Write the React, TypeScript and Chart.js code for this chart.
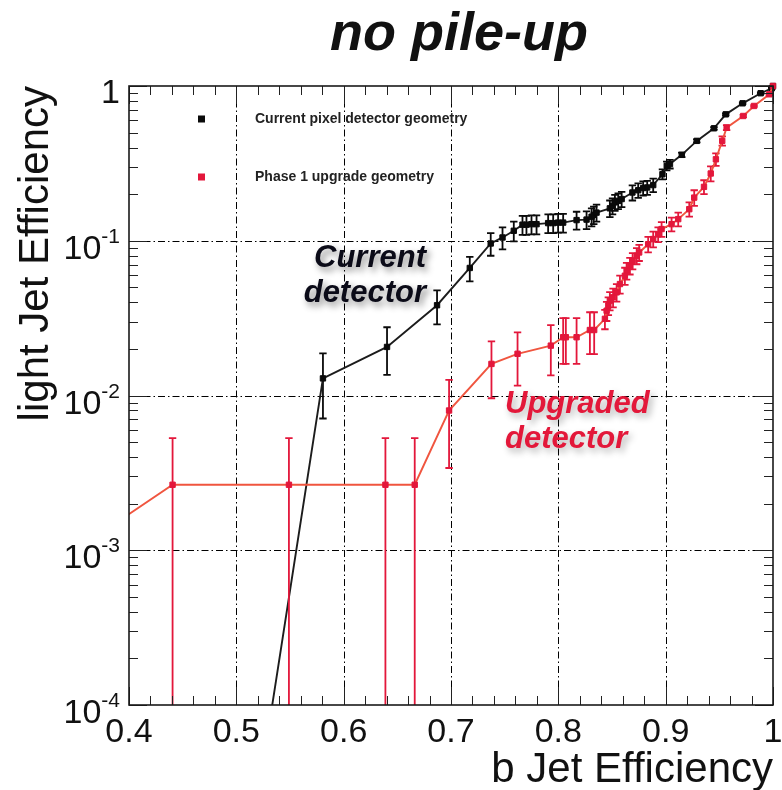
import React, { useEffect, useRef } from "react";
import { Chart, registerables } from "chart.js";

Chart.register(...registerables);

// ---- data ----
const currentX = [0.5, 0.5807, 0.6404, 0.687, 0.7175, 0.737, 0.748, 0.7585, 0.7666, 0.7703, 0.775, 0.7797, 0.7905, 0.7952, 0.7998, 0.8045, 0.817, 0.8263, 0.831, 0.833, 0.8356, 0.848, 0.8505, 0.8527, 0.8558, 0.859, 0.869, 0.8744, 0.879, 0.8828, 0.8884, 0.897, 0.901, 0.904, 0.915, 0.929, 0.945, 0.956, 0.9717, 0.9885, 0.9988, 1.0];
const currentY = [3.2e-6, 0.0129, 0.0206, 0.0383, 0.0667, 0.096, 0.105, 0.116, 0.127, 0.127, 0.128, 0.128, 0.13, 0.13, 0.131, 0.131, 0.136, 0.137, 0.143, 0.147, 0.152, 0.162, 0.168, 0.177, 0.181, 0.186, 0.205, 0.212, 0.219, 0.221, 0.229, 0.269, 0.305, 0.313, 0.359, 0.442, 0.533, 0.656, 0.773, 0.898, 0.966, 1.0];
const currentErr = [0, 0.0058, 0.007, 0.0095, 0.012, 0.016, 0.017, 0.017, 0.018, 0.018, 0.018, 0.018, 0.018, 0.018, 0.018, 0.018, 0.018, 0.018, 0.019, 0.019, 0.019, 0.02, 0.02, 0.021, 0.021, 0.021, 0.023, 0.023, 0.023, 0.023, 0.023, 0.02, 0.02, 0.02, 0.012, 0.01, 0.01, 0.01, 0.01, 0.01, 0.01, 0];

const upgradeX = [0.38, 0.4406, 0.549, 0.6389, 0.6662, 0.6982, 0.7377, 0.762, 0.793, 0.8045, 0.807, 0.817, 0.8294, 0.8334, 0.8434, 0.845, 0.8466, 0.848, 0.851, 0.8543, 0.8574, 0.862, 0.8636, 0.8667, 0.8692, 0.873, 0.8753, 0.8837, 0.8884, 0.893, 0.8962, 0.9055, 0.9117, 0.922, 0.9266, 0.9357, 0.942, 0.9468, 0.9527, 0.9568, 0.9723, 0.9823, 0.9966, 1.0];
const upgradeY = [0.00138, 0.00265, 0.00265, 0.00265, 0.00265, 0.008, 0.016, 0.0186, 0.021, 0.0238, 0.0238, 0.0238, 0.0265, 0.0265, 0.0313, 0.0353, 0.0381, 0.041, 0.0431, 0.0464, 0.0525, 0.0594, 0.064, 0.069, 0.0743, 0.08, 0.084, 0.095, 0.1026, 0.11, 0.119, 0.128, 0.138, 0.16, 0.19, 0.223, 0.272, 0.336, 0.442, 0.538, 0.64, 0.743, 0.884, 1.0];
const upgradeErr = [0.00138, 0.00265, 0.00265, 0.00265, 0.00265, 0.0046, 0.0064, 0.007, 0.0075, 0.0078, 0.0078, 0.0078, 0.008, 0.008, 0.0045, 0.005, 0.005, 0.0055, 0.006, 0.006, 0.007, 0.0075, 0.008, 0.0085, 0.009, 0.0095, 0.01, 0.011, 0.012, 0.012, 0.013, 0.013, 0.014, 0.017, 0.022, 0.023, 0.03, 0.031, 0.03, 0.02, 0.01, 0.01, 0.01, 0];

const xMajorTicks = [0.4, 0.5, 0.6, 0.7, 0.8, 0.9, 1.0];
const xTickLabels = ["0.4", "0.5", "0.6", "0.7", "0.8", "0.9", "1"];
const yDecades = [1e-4, 1e-3, 1e-2, 1e-1, 1];
const yTickExponents = ["-4", "-3", "-2", "-1", ""];
const legendLabels = ["Current pixel detector geometry", "Phase 1 upgrade geometry"];
const titleText = "no pile-up";
const xTitle = "b Jet Efficiency";
const yTitle = "light Jet Efficiency";
const currentNote = ["Current", "detector"];
const upgradeNote = ["Upgraded", "detector"];

const BLACK = "#0a0a0a";
const RED = "#e3173b";
const RED_LINE = "#f0553f";
const FONT = "'Liberation Sans', Arial, Helvetica, sans-serif";

const decorPlugin = {
  id: "rocDecor",
  beforeDatasetsDraw(chart: any) {
    const { ctx, chartArea: a, scales } = chart;
    const xs = scales.x, ys = scales.y;
    ctx.save();
    ctx.strokeStyle = "#000";
    ctx.lineWidth = 1;
    ctx.setLineDash([7, 3, 1.5, 3]);
    xMajorTicks.slice(1, -1).forEach((v) => {
      const px = Math.round(xs.getPixelForValue(v)) + 0.5;
      ctx.beginPath();
      ctx.moveTo(px, a.top);
      ctx.lineTo(px, a.bottom);
      ctx.stroke();
    });
    yDecades.slice(1, -1).forEach((v) => {
      const py = Math.round(ys.getPixelForValue(v)) + 0.5;
      ctx.beginPath();
      ctx.moveTo(a.left, py);
      ctx.lineTo(a.right, py);
      ctx.stroke();
    });
    ctx.restore();
  },
  beforeDatasetDraw(chart: any, args: any) {
    const { ctx, chartArea: a, scales } = chart;
    const xs = scales.x, ys = scales.y;
    const ds = chart.data.datasets[args.index];
    const errs: number[] = ds.errs;
    const color: string = ds.pointBackgroundColor;
    ctx.save();
    ctx.beginPath();
    ctx.rect(a.left, a.top - 6, a.width + 6, a.height + 6);
    ctx.clip();
    ctx.strokeStyle = color;
    ctx.lineWidth = 1.8;
    ds.data.forEach((p: any, i: number) => {
      const e = errs[i];
      if (!e) return;
      const px = xs.getPixelForValue(p.x);
      const yHi = ys.getPixelForValue(p.y + e);
      const lo = p.y - e;
      const yLo = lo > 0 ? ys.getPixelForValue(lo) : a.bottom + 20;
      ctx.beginPath();
      ctx.moveTo(px, yHi);
      ctx.lineTo(px, yLo);
      ctx.moveTo(px - 3.7, yHi);
      ctx.lineTo(px + 3.7, yHi);
      if (lo > 0) {
        ctx.moveTo(px - 3.7, yLo);
        ctx.lineTo(px + 3.7, yLo);
      }
      ctx.stroke();
    });
    ctx.restore();
  },
  afterDatasetsDraw(chart: any) {
    const { ctx, chartArea: a, scales } = chart;
    const xs = scales.x, ys = scales.y;
    ctx.save();
    // ticks
    ctx.strokeStyle = "#222";
    ctx.lineWidth = 1;
    ctx.setLineDash([]);
    const majLen = 18, minLen = 9;
    for (let k = 0; k <= 30; k++) {
      const v = 0.4 + 0.02 * k;
      const isMajor = k % 5 === 0;
      const len = isMajor ? majLen : minLen;
      const px = Math.round(xs.getPixelForValue(v)) + 0.5;
      ctx.beginPath();
      ctx.moveTo(px, a.bottom);
      ctx.lineTo(px, a.bottom - len);
      ctx.moveTo(px, a.top);
      ctx.lineTo(px, a.top + len);
      ctx.stroke();
    }
    for (let d = -4; d <= 0; d++) {
      for (let m = 1; m <= 9; m++) {
        if (d === 0 && m > 1) break;
        const v = m * Math.pow(10, d);
        const len = m === 1 ? majLen : minLen;
        const py = Math.round(ys.getPixelForValue(v)) + 0.5;
        ctx.beginPath();
        ctx.moveTo(a.left, py);
        ctx.lineTo(a.left + len, py);
        ctx.moveTo(a.right, py);
        ctx.lineTo(a.right - len, py);
        ctx.stroke();
      }
    }
    // frame
    ctx.lineWidth = 1.6;
    ctx.strokeStyle = "#1a1a1a";
    ctx.strokeRect(a.left, a.top, a.width, a.height);

    // tick labels
    ctx.fillStyle = "#111";
    ctx.textBaseline = "alphabetic";
    ctx.font = `34px ${FONT}`;
    ctx.textAlign = "center";
    xMajorTicks.forEach((v, i) => {
      ctx.fillText(xTickLabels[i], xs.getPixelForValue(v), a.bottom + 37);
    });
    const labelRight = a.left - 9;
    yDecades.forEach((v, i) => {
      const py = ys.getPixelForValue(v);
      const exp = yTickExponents[i];
      if (!exp) {
        ctx.font = `34px ${FONT}`;
        ctx.textAlign = "right";
        ctx.fillText("1", labelRight, py + 17);
        return;
      }
      ctx.font = `21px ${FONT}`;
      ctx.textAlign = "right";
      const w = ctx.measureText(exp).width;
      ctx.fillText(exp, labelRight, py + 2);
      ctx.font = `34px ${FONT}`;
      ctx.fillText("10", labelRight - w, py + 18);
    });

    // axis titles
    ctx.font = `42px ${FONT}`;
    ctx.textAlign = "right";
    ctx.fillText(xTitle, a.right, a.bottom + 77);
    ctx.save();
    ctx.translate(48, a.top);
    ctx.rotate(-Math.PI / 2);
    ctx.textAlign = "right";
    ctx.fillText(yTitle, 0, 0);
    ctx.restore();

    // title
    ctx.font = `italic bold 54px ${FONT}`;
    ctx.textAlign = "center";
    ctx.fillText(titleText, 459, 50);

    // legend
    const legendColors = [BLACK, RED];
    const legendY = [119, 177];
    ctx.font = `bold 14px ${FONT}`;
    ctx.textAlign = "left";
    ctx.textBaseline = "middle";
    legendLabels.forEach((lab, i) => {
      ctx.fillStyle = legendColors[i];
      ctx.fillRect(198, legendY[i] - 3.5, 7, 7);
      ctx.fillStyle = "#222";
      ctx.fillText(lab, 255, legendY[i]);
    });

    // annotations
    ctx.textBaseline = "alphabetic";
    ctx.font = `italic bold 31px ${FONT}`;
    ctx.shadowColor = "rgba(0,0,0,0.45)";
    ctx.shadowBlur = 7;
    ctx.shadowOffsetX = 3;
    ctx.shadowOffsetY = 4;
    ctx.fillStyle = "#0b0b18";
    ctx.textAlign = "right";
    ctx.fillText(currentNote[0], 426, 267);
    ctx.fillText(currentNote[1], 426, 302);
    ctx.shadowColor = "rgba(0,0,0,0.3)";
    ctx.fillStyle = "#e3183a";
    ctx.textAlign = "left";
    ctx.fillText(upgradeNote[0], 505, 413);
    ctx.fillText(upgradeNote[1], 505, 448);
    ctx.restore();
  },
};

export default function App() {
  const canvasRef = useRef<HTMLCanvasElement | null>(null);

  useEffect(() => {
    const canvas = canvasRef.current;
    if (!canvas) return;
    const chart = new Chart(canvas, {
      type: "line",
      data: {
        datasets: [
          {
            label: legendLabels[1],
            data: upgradeX.map((x, i) => ({ x, y: upgradeY[i] })),
            errs: upgradeErr,
            borderColor: RED_LINE,
            borderWidth: 1.9,
            pointStyle: "rect",
            pointRadius: 3.8,
            pointBackgroundColor: RED,
            pointBorderColor: RED,
            pointBorderWidth: 1,
            tension: 0,
            order: 1,
            clip: { left: 0, top: 6, right: 6, bottom: 0 },
          } as any,
          {
            label: legendLabels[0],
            data: currentX.map((x, i) => ({ x, y: currentY[i] })),
            errs: currentErr,
            borderColor: "#1c1c1c",
            borderWidth: 1.9,
            pointStyle: "rect",
            pointRadius: 3.8,
            pointBackgroundColor: BLACK,
            pointBorderColor: BLACK,
            pointBorderWidth: 1,
            tension: 0,
            order: 2,
            clip: { left: 0, top: 6, right: 6, bottom: 0 },
          } as any,
        ],
      },
      options: {
        animation: false,
        responsive: false,
        devicePixelRatio: 1,
        layout: { padding: { left: 129, top: 86, right: 9, bottom: 85 } },
        scales: {
          x: { type: "linear", min: 0.4, max: 1.0, display: false },
          y: { type: "logarithmic", min: 1e-4, max: 1, display: false },
        },
        plugins: {
          legend: { display: false },
          tooltip: { enabled: false },
          title: { display: false },
        },
      },
      plugins: [decorPlugin],
    });
    return () => chart.destroy();
  }, []);

  return (
    <div style={{ position: "absolute", left: 0, top: 0, width: 782, height: 790, background: "#fff" }}>
      <canvas ref={canvasRef} width={782} height={790} style={{ display: "block" }} />
    </div>
  );
}
